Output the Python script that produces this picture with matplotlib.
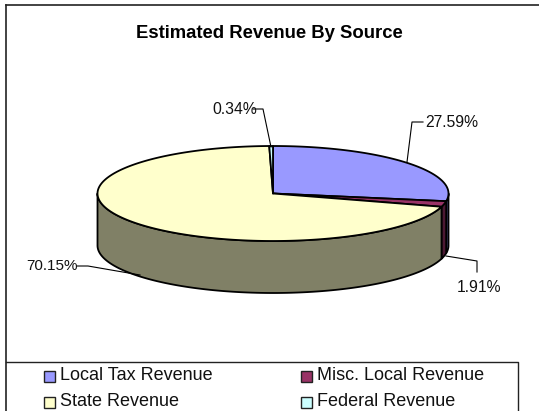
import numpy as np
import matplotlib
matplotlib.use('Agg')
import matplotlib.pyplot as plt
from matplotlib.patches import Polygon, Rectangle

plt.rcParams['font.family'] = ['Liberation Sans', 'DejaVu Sans']

labels = ['Local Tax Revenue', 'Misc. Local Revenue', 'State Revenue', 'Federal Revenue']
shares = [27.59, 1.91, 70.15, 0.34]
top_colors = ['#9999FF', '#993366', '#FFFFCC', '#CCFFFF']
side_colors = ['#4C4C80', '#4C1933', '#808066', '#668080']

# pie geometry in pixels
cx, cy = 273, 193.5
rx, ry = 175.5, 47.5
depth = 52

fig = plt.figure(figsize=(5.39, 4.11), dpi=100)
ax = fig.add_axes([0, 0, 1, 1])
ax.set_xlim(0, 539)
ax.set_ylim(411, 0)
ax.axis('off')

# outer frame and legend box
ax.plot([6, 6], [5.5, 411], color='#222222', lw=1.2)
ax.plot([6, 539], [5.5, 5.5], color='#222222', lw=1.2)
ax.plot([6, 517.5, 517.5], [361.5, 361.5, 411], color='#222222', lw=1)


def rim(a0, a1):
    # angles in degrees clockwise from 12 o'clock
    t = np.radians(np.linspace(a0, a1, 200))
    return cx + rx * np.sin(t), cy - ry * np.cos(t)


# slice angles from the shares
edges = np.concatenate([[0], np.cumsum(shares)]) / sum(shares) * 360

# sides first, only the front half shows
for i in range(len(shares)):
    a0 = max(edges[i], 90)
    a1 = min(edges[i + 1], 270)
    if a1 <= a0:
        continue
    x, y = rim(a0, a1)
    pts = np.vstack([np.c_[x, y], np.c_[x[::-1], y[::-1] + depth]])
    ax.add_patch(Polygon(pts, closed=True, fc=side_colors[i], ec='black', lw=1.3, joinstyle='round'))

# top faces
for i in range(len(shares)):
    x, y = rim(edges[i], edges[i + 1])
    pts = np.vstack([[cx, cy], np.c_[x, y]])
    ax.add_patch(Polygon(pts, closed=True, fc=top_colors[i], ec='black', lw=1.3, joinstyle='round'))

ax.text(269, 33.5, 'Estimated Revenue By Source', ha='center', va='center',
        fontsize=13.3, fontweight='bold')

# percent labels with leader lines
ax.text(425, 122, '%.2f%%' % shares[0], ha='left', va='center', fontsize=11.3, color='#111111')
ax.plot([407, 412, 423], [162, 122, 122], color='black', lw=0.8)
ax.text(457, 287, '%.2f%%' % shares[1], ha='left', va='center', fontsize=11.3, color='#111111')
ax.plot([446, 477, 477], [256, 261, 272], color='black', lw=0.8)
ax.text(26, 266, '%.2f%%' % shares[2], ha='left', va='center', fontsize=11, color='#111111')
ax.plot([77, 88, 140], [266, 266, 275], color='black', lw=0.8)
ax.text(212, 109, '%.2f%%' % shares[3], ha='left', va='center', fontsize=11.3, color='#111111')
ax.plot([253, 263, 271], [109, 109, 147], color='black', lw=0.8)

# legend, two columns
leg_x = [44, 301]
leg_y = [374, 400]
for i, name in enumerate(labels):
    col = i % 2
    row = i // 2
    ax.add_patch(Rectangle((leg_x[col], leg_y[row] - 3), 11, 11, fc=top_colors[i], ec='#222222', lw=1))
    ax.text(leg_x[col] + 16, leg_y[row] + 1, name, ha='left', va='center', fontsize=13, color='#111111')

fig.savefig('out.png', dpi=100)
